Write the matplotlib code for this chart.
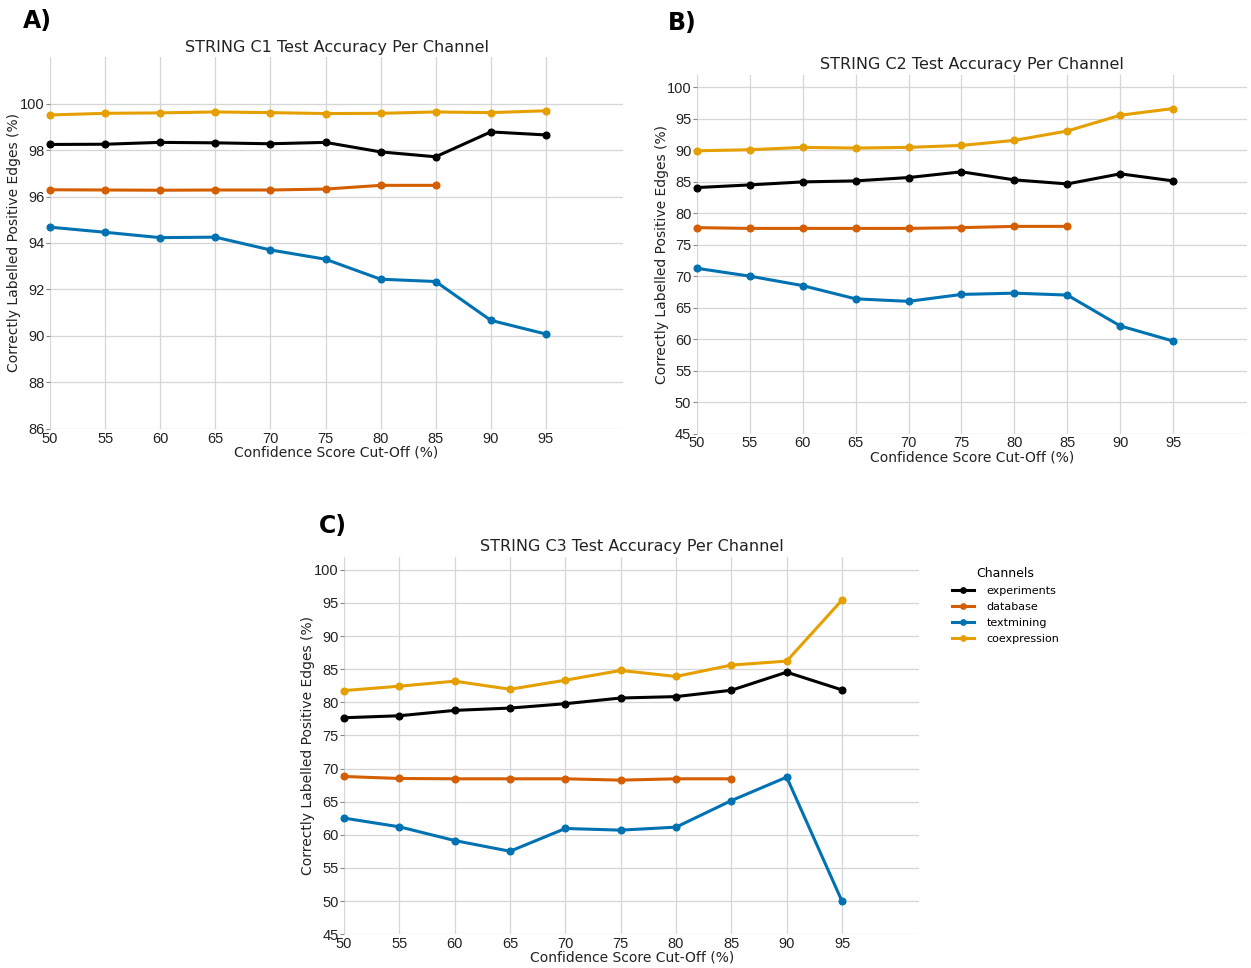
import matplotlib
matplotlib.use("Agg")
import matplotlib.pyplot as plt

cutoffs = [50, 55, 60, 65, 70, 75, 80, 85, 90, 95]
cutoffs_db = [50, 55, 60, 65, 70, 75, 80, 85]

# Panel A (STRING C1)
c1_experiments = [98.24, 98.25, 98.33, 98.31, 98.27, 98.33, 97.92, 97.71, 98.78, 98.65]
c1_database = [96.29, 96.28, 96.27, 96.28, 96.28, 96.32, 96.48, 96.48]
c1_textmining = [94.68, 94.46, 94.23, 94.25, 93.70, 93.30, 92.44, 92.34, 90.67, 90.08]
c1_coexpression = [99.51, 99.58, 99.60, 99.64, 99.61, 99.57, 99.58, 99.64, 99.61, 99.69]

# Panel B (STRING C2)
c2_experiments = [84.06, 84.48, 84.96, 85.12, 85.65, 86.56, 85.28, 84.64, 86.24, 85.12]
c2_database = [77.70, 77.58, 77.58, 77.58, 77.58, 77.70, 77.90, 77.90]
c2_textmining = [71.25, 70.00, 68.50, 66.40, 66.00, 67.10, 67.30, 67.00, 62.10, 59.70]
c2_coexpression = [89.90, 90.06, 90.44, 90.33, 90.44, 90.75, 91.55, 93.04, 95.54, 96.60]

# Panel C (STRING C3)
c3_experiments = [77.67, 77.97, 78.78, 79.13, 79.79, 80.65, 80.86, 81.82, 84.55, 81.87]
c3_database = [68.80, 68.50, 68.45, 68.45, 68.45, 68.25, 68.45, 68.45]
c3_textmining = [62.52, 61.20, 59.13, 57.51, 60.95, 60.70, 61.15, 65.16, 68.70, 49.96]
c3_coexpression = [81.77, 82.43, 83.19, 81.97, 83.34, 84.81, 83.90, 85.62, 86.22, 95.44]

channels = ["experiments", "database", "textmining", "coexpression"]
colors = {"experiments": "#000000", "database": "#D55E00",
          "textmining": "#0072B2", "coexpression": "#E69F00"}

panels = [
    dict(letter="A)", title="STRING C1 Test Accuracy Per Channel",
         data=dict(experiments=c1_experiments, database=c1_database,
                   textmining=c1_textmining, coexpression=c1_coexpression),
         ylim=(86, 102), yticks=list(range(86, 101, 2)),
         rect=[0.040, 0.557, 0.458, 0.384], letter_xy=(0.018, 0.978)),
    dict(letter="B)", title="STRING C2 Test Accuracy Per Channel",
         data=dict(experiments=c2_experiments, database=c2_database,
                   textmining=c2_textmining, coexpression=c2_coexpression),
         ylim=(45, 102), yticks=list(range(45, 101, 5)),
         rect=[0.557, 0.552, 0.440, 0.371], letter_xy=(0.534, 0.976)),
    dict(letter="C)", title="STRING C3 Test Accuracy Per Channel",
         data=dict(experiments=c3_experiments, database=c3_database,
                   textmining=c3_textmining, coexpression=c3_coexpression),
         ylim=(45, 102), yticks=list(range(45, 101, 5)),
         rect=[0.275, 0.035, 0.460, 0.390], letter_xy=(0.255, 0.457)),
]

fig = plt.figure(figsize=(12.51, 9.68), dpi=100)
fig.patch.set_facecolor("white")

handles = None
for p in panels:
    ax = fig.add_axes(p["rect"])
    for ch in channels:
        ys = p["data"][ch]
        xs = cutoffs if len(ys) == len(cutoffs) else cutoffs_db
        ax.plot(xs, ys, color=colors[ch], lw=2.2, marker="o", ms=4.8,
                label=ch, zorder=3, clip_on=False)
    ax.set_xlim(50, 102)
    ax.set_ylim(*p["ylim"])
    ax.set_xticks(cutoffs)
    ax.set_yticks(p["yticks"])
    for s in ax.spines.values():
        s.set_visible(False)
    ax.grid(True, color="#d6d6d6", lw=0.9, zorder=0)
    ax.tick_params(axis="both", labelsize=10.5, length=3, color="#888888",
                   pad=1, labelcolor="#222222")
    ax.tick_params(axis="x", length=0, pad=2)
    for lab in ax.get_xticklabels() + ax.get_yticklabels():
        lab.set_fontfamily("Liberation Sans")
    ax.set_title(p["title"], fontsize=11.5, pad=4, color="#222222")
    ax.set_xlabel("Confidence Score Cut-Off (%)", fontsize=10, labelpad=0,
                  color="#222222")
    ax.set_ylabel("Correctly Labelled Positive Edges (%)", fontsize=10,
                  color="#222222")
    ax.yaxis.set_label_coords(-0.051, 0.5)
    fig.text(p["letter_xy"][0], p["letter_xy"][1], p["letter"], fontsize=17,
             fontweight="bold", ha="left", va="center")
    handles = ax.get_legend_handles_labels()

leg = fig.legend(handles[0], handles[1], title="Channels", loc="upper left",
                 bbox_to_anchor=(0.753, 0.425), frameon=False, fontsize=8,
                 title_fontsize=9, handlelength=2.0, handletextpad=1.1,
                 labelspacing=0.55, markerscale=0.8)

fig.savefig("out.png", dpi=100, facecolor="white")
